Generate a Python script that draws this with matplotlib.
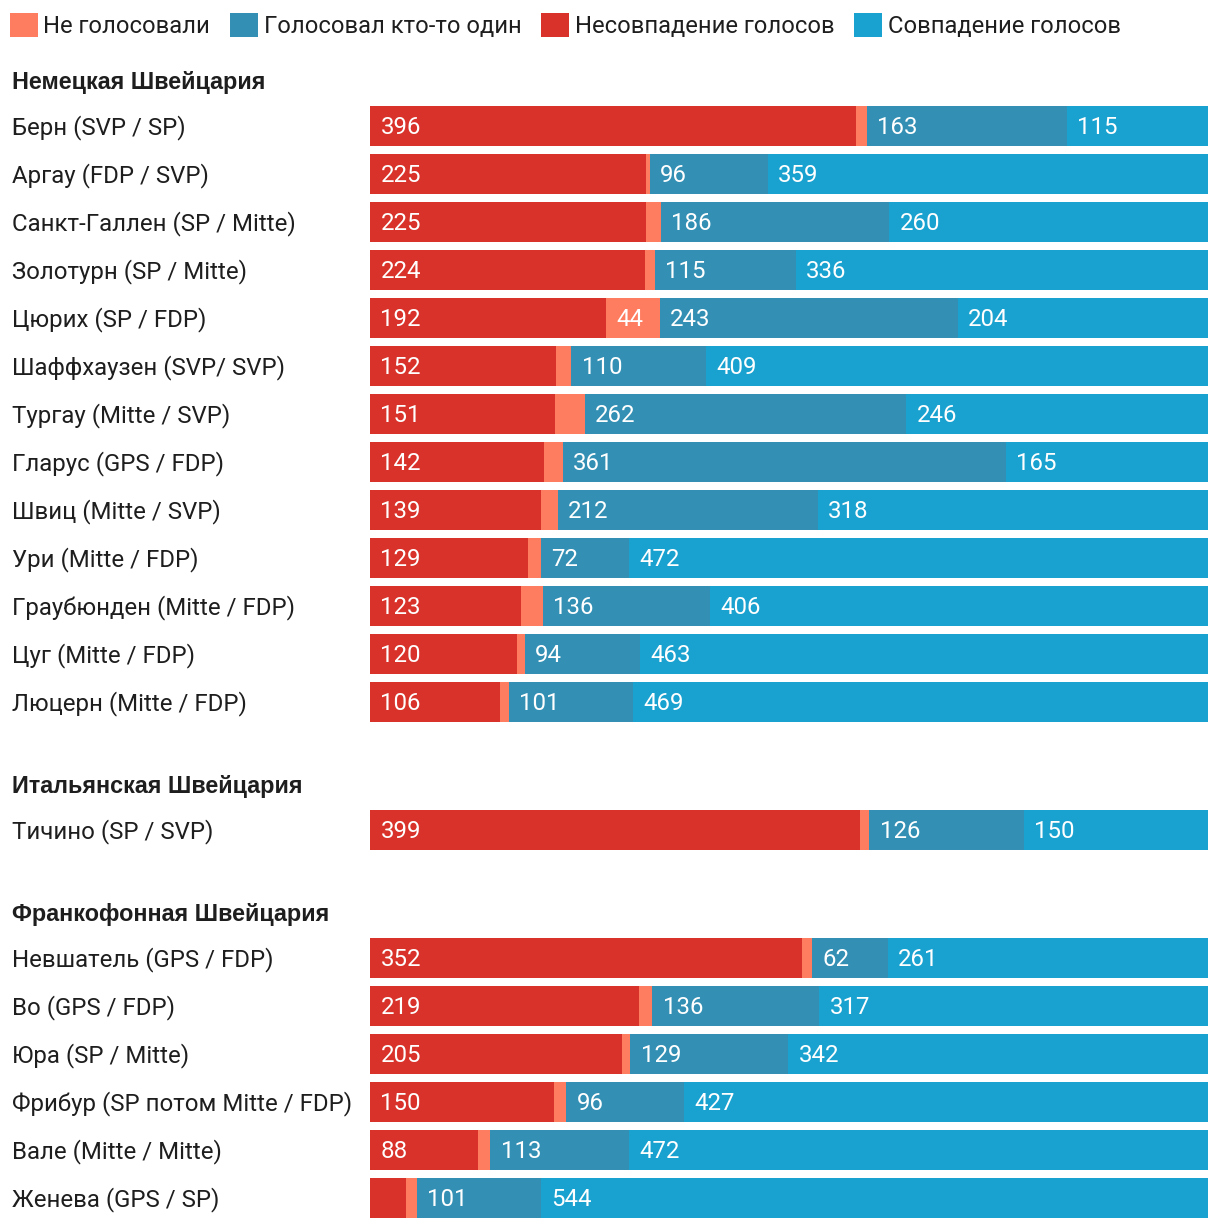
import matplotlib
matplotlib.use("Agg")
import matplotlib.pyplot as plt
from matplotlib.patches import Patch
from matplotlib import transforms

# ---------------- data ----------------
groups = ["Немецкая Швейцария", "Итальянская Швейцария", "Франкофонная Швейцария"]
cantons = [
    "Берн (SVP / SP)", "Аргау (FDP / SVP)", "Санкт-Галлен (SP / Mitte)",
    "Золотурн (SP / Mitte)", "Цюрих (SP / FDP)", "Шаффхаузен (SVP/ SVP)",
    "Тургау (Mitte / SVP)", "Гларус (GPS / FDP)", "Швиц (Mitte / SVP)",
    "Ури (Mitte / FDP)", "Граубюнден (Mitte / FDP)", "Цуг (Mitte / FDP)",
    "Люцерн (Mitte / FDP)",
    "Тичино (SP / SVP)",
    "Невшатель (GPS / FDP)", "Во (GPS / FDP)", "Юра (SP / Mitte)",
    "Фрибур (SP потом Mitte / FDP)", "Вале (Mitte / Mitte)", "Женева (GPS / SP)",
]
canton_group = [0] * 13 + [1] + [2] * 6

mismatch = [396, 225, 225, 224, 192, 152, 151, 142, 139, 129, 123, 120, 106,
            399,
            352, 219, 205, 150, 88, 29]
not_voted = [9, 3, 12, 8, 44, 12, 24, 15, 14, 10, 18, 6, 7,
             8,
             8, 11, 7, 10, 10, 9]
one_voted = [163, 96, 186, 115, 243, 110, 262, 361, 212, 72, 136, 94, 101,
             126,
             62, 136, 129, 96, 113, 101]
match = [115, 359, 260, 336, 204, 409, 246, 165, 318, 472, 406, 463, 469,
         150,
         261, 317, 342, 427, 472, 544]

series_names = ["Несовпадение голосов", "Не голосовали", "Голосовал кто-то один", "Совпадение голосов"]
legend_order = ["Не голосовали", "Голосовал кто-то один", "Несовпадение голосов", "Совпадение голосов"]
colors = {
    "Несовпадение голосов": "#d8322a",
    "Не голосовали": "#fe7c60",
    "Голосовал кто-то один": "#3390b4",
    "Совпадение голосов": "#19a2d0",
}
total = 683

# ---------------- layout ----------------
W, H = 1220, 1230
fig = plt.figure(figsize=(W / 100, H / 100), dpi=100)
ax = fig.add_axes([370 / W, 0, 838 / W, 1])
ax.set_xlim(0, total)
ax.set_ylim(H, 0)
ax.axis("off")

FONT = "Roboto"
FS = 17.3
LFS = 17.1
TXT = "#1e1e1e"

# row positions (pixel units along y)
row_y = []
header_y = []
y = 82
prev_group = None
for i, g in enumerate(canton_group):
    if g != prev_group:
        if prev_group is not None:
            y += 84
        header_y.append(y)
        y += 44
        prev_group = g
    else:
        y += 48
    row_y.append(y)

dy = 1.2  # small downward nudge for text centring
series_vals = [mismatch, not_voted, one_voted, match]
left = [0] * len(cantons)
for name, vals in zip(series_names, series_vals):
    ax.barh(row_y, vals, left=left, height=40, color=colors[name], linewidth=0)
    for yy, l, v in zip(row_y, left, vals):
        if v >= 40:
            ax.annotate(str(v), xy=(l, yy + dy), xytext=(7.5, 0), textcoords="offset points",
                        color="white", ha="left", va="center", fontsize=FS, family=FONT)
    left = [a + b for a, b in zip(left, vals)]

tr = transforms.blended_transform_factory(fig.transFigure, ax.transData)
for name, yy in zip(cantons, row_y):
    ax.text(12 / W, yy + dy, name, transform=tr, ha="left", va="center",
            fontsize=FS, family=FONT, color=TXT)
for g, yy in zip(groups, header_y):
    ax.text(12 / W, yy + 1, g, transform=tr, ha="left", va="center",
            fontsize=16.8, family="Liberation Sans", weight="bold", color=TXT)

handles = [Patch(facecolor=colors[n], edgecolor="none", label=n) for n in legend_order]
fig.legend(handles=handles, loc="upper left", bbox_to_anchor=(10 / W, 1 - 13 / H),
           ncol=4, frameon=False, borderpad=0, borderaxespad=0,
           handlelength=1.16, handleheight=1.16, handletextpad=0.25,
           columnspacing=0.84, prop={"family": FONT, "size": LFS}, labelcolor=TXT)

fig.savefig("out.png", dpi=100)
